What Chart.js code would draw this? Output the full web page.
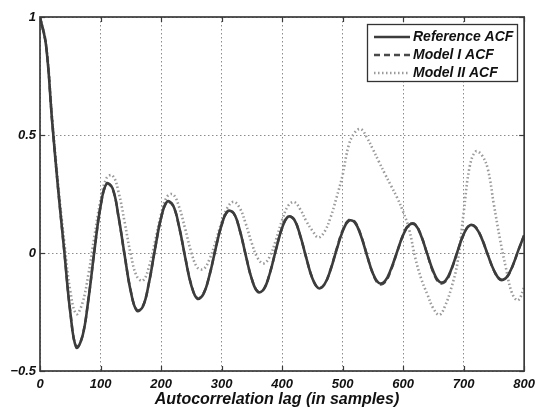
<!DOCTYPE html>
<html>
<head>
<meta charset="utf-8">
<style>
  html, body { margin: 0; padding: 0; background: #ffffff; }
  canvas { display: block; }
</style>
<script src="https://cdn.jsdelivr.net/npm/chart.js@4.4.1/dist/chart.umd.min.js"></script>
</head>
<body>
<canvas id="acf" width="541" height="408"></canvas>
<script>
// Autocorrelation lag (samples)
const lags = [
  0, 10, 20, 30, 40, 50, 60, 70, 80, 90,
  100, 110, 120, 130, 140, 150, 160, 170, 180, 190,
  200, 210, 220, 230, 240, 250, 260, 270, 280, 290,
  300, 310, 320, 330, 340, 350, 360, 370, 380, 390,
  400, 410, 420, 430, 440, 450, 460, 470, 480, 490,
  500, 510, 520, 530, 540, 550, 560, 570, 580, 590,
  600, 610, 620, 630, 640, 650, 660, 670, 680, 690,
  700, 710, 720, 730, 740, 750, 760, 770, 780, 790,
  800
];

const referenceAcf = [
  1.00, 0.88, 0.56, 0.27, 0.01, -0.25, -0.40, -0.355, -0.197, 0.011,
  0.197, 0.294, 0.274, 0.150, -0.012, -0.163, -0.244, -0.227, -0.127, 0.016,
  0.148, 0.218, 0.201, 0.110, -0.020, -0.137, -0.194, -0.174, -0.095, 0.016,
  0.118, 0.177, 0.169, 0.098, -0.010, -0.111, -0.165, -0.153, -0.084, 0.015,
  0.106, 0.154, 0.142, 0.074, -0.021, -0.107, -0.149, -0.133, -0.072, 0.013,
  0.091, 0.136, 0.130, 0.075, -0.008, -0.086, -0.127, -0.119, -0.068, 0.005,
  0.076, 0.119, 0.119, 0.071, -0.005, -0.079, -0.122, -0.117, -0.067, 0.008,
  0.079, 0.117, 0.108, 0.061, -0.008, -0.073, -0.111, -0.106, -0.060, 0.009,
  0.075
];

const model1Acf = [
  1.00, 0.88, 0.56, 0.27, 0.012, -0.248, -0.398, -0.352, -0.195, 0.012,
  0.196, 0.292, 0.272, 0.149, -0.012, -0.161, -0.242, -0.225, -0.126, 0.017,
  0.147, 0.216, 0.199, 0.109, -0.019, -0.135, -0.192, -0.172, -0.094, 0.017,
  0.117, 0.175, 0.168, 0.097, -0.009, -0.110, -0.163, -0.152, -0.083, 0.016,
  0.106, 0.153, 0.141, 0.073, -0.020, -0.106, -0.147, -0.133, -0.070, 0.016,
  0.095, 0.139, 0.133, 0.077, -0.006, -0.088, -0.131, -0.124, -0.072, 0.003,
  0.076, 0.121, 0.121, 0.072, -0.006, -0.083, -0.127, -0.121, -0.069, 0.007,
  0.079, 0.118, 0.110, 0.062, -0.008, -0.074, -0.113, -0.107, -0.061, 0.008,
  0.074
];

const model2Acf = [
  1.00, 0.885, 0.575, 0.29, 0.05, -0.16, -0.258, -0.213, -0.090, 0.072,
  0.223, 0.318, 0.328, 0.256, 0.129, -0.006, -0.099, -0.117, -0.059, 0.049,
  0.163, 0.239, 0.248, 0.194, 0.101, 0.003, -0.061, -0.068, -0.027, 0.047,
  0.130, 0.193, 0.217, 0.191, 0.124, 0.041, -0.023, -0.044, -0.013, 0.057,
  0.139, 0.200, 0.216, 0.185, 0.135, 0.095, 0.066, 0.090, 0.150, 0.235,
  0.330, 0.455, 0.510, 0.525, 0.490, 0.440, 0.387, 0.335, 0.285, 0.235,
  0.175, 0.100, -0.020, -0.110, -0.175, -0.235, -0.262, -0.220, -0.145, -0.040,
  0.170, 0.366, 0.430, 0.415, 0.355, 0.205, 0.060, -0.065, -0.170, -0.200,
  -0.145
];

const seriesLabels = ['Reference ACF', 'Model I ACF', 'Model II ACF'];
const xTickValues = [0, 100, 200, 300, 400, 500, 600, 700, 800];
const yTickValues = [-0.5, 0, 0.5, 1];
const yTickLabels = ['\u22120.5', '0', '0.5', '1'];
const xTitle = 'Autocorrelation lag (in samples)';

const FONT = '"Liberation Sans", Arial, Helvetica, sans-serif';
const toPoints = (vals) => vals.map((v, i) => ({ x: lags[i], y: v }));

// Box frame with inward tick marks on all four sides
const framePlugin = {
  id: 'frame',
  afterDatasetsDraw(chart) {
    const { ctx, chartArea: a, scales } = chart;
    const xs = scales.x, ys = scales.y;
    ctx.save();
    ctx.setLineDash([]);
    ctx.strokeStyle = '#3a3a3a';
    ctx.lineWidth = 1.2;
    const len = 5;
    const seg = (x1, y1, x2, y2) => {
      ctx.beginPath(); ctx.moveTo(x1, y1); ctx.lineTo(x2, y2); ctx.stroke();
    };
    xs.ticks.forEach(t => {
      const px = Math.round(xs.getPixelForValue(t.value)) + 0.5;
      seg(px, a.top, px, a.top + len);
      seg(px, a.bottom, px, a.bottom - len);
    });
    ys.ticks.forEach(t => {
      const py = Math.round(ys.getPixelForValue(t.value)) + 0.5;
      seg(a.left, py, a.left + len, py);
      seg(a.right, py, a.right - len, py);
    });
    ctx.lineWidth = 1.7;
    ctx.strokeRect(a.left, a.top, a.right - a.left, a.bottom - a.top);
    ctx.restore();
  }
};

// Axis title under the lag labels
const axisTitlePlugin = {
  id: 'axisTitle',
  afterDraw(chart) {
    const { ctx } = chart;
    ctx.save();
    ctx.fillStyle = '#111111';
    ctx.font = 'italic bold 16px ' + FONT;
    ctx.textAlign = 'center';
    ctx.textBaseline = 'middle';
    ctx.fillText(xTitle, 277, 400);
    ctx.restore();
  }
};

// Boxed legend in the upper right corner
const boxLegendPlugin = {
  id: 'boxLegend',
  afterDraw(chart) {
    const { ctx } = chart;
    const box = { left: 367, top: 24, right: 517, bottom: 81 };
    ctx.save();
    ctx.fillStyle = '#ffffff';
    ctx.fillRect(box.left, box.top, box.right - box.left, box.bottom - box.top);
    ctx.setLineDash([]);
    ctx.strokeStyle = '#333333';
    ctx.lineWidth = 1.3;
    ctx.strokeRect(box.left + 0.5, box.top + 0.5, box.right - box.left, box.bottom - box.top);
    const rowY = [37, 55, 73];
    chart.data.datasets.forEach((ds, i) => {
      const y = rowY[i];
      ctx.strokeStyle = ds.borderColor;
      ctx.lineWidth = ds.borderWidth;
      ctx.setLineDash(ds.borderDash || []);
      ctx.beginPath();
      ctx.moveTo(374, y);
      ctx.lineTo(410, y);
      ctx.stroke();
      ctx.setLineDash([]);
      ctx.fillStyle = '#111111';
      ctx.font = 'italic bold 14px ' + FONT;
      ctx.textAlign = 'left';
      ctx.textBaseline = 'middle';
      ctx.fillText(ds.label, 413, y + 0.5);
    });
    ctx.restore();
  }
};

new Chart(document.getElementById('acf'), {
  type: 'line',
  data: {
    datasets: [
      {
        label: seriesLabels[0],
        data: toPoints(referenceAcf),
        borderColor: '#3c3c3c',
        borderWidth: 2.6,
        pointRadius: 0,
        tension: 0.4,
        fill: false
      },
      {
        label: seriesLabels[1],
        data: toPoints(model1Acf),
        borderColor: '#4a4a4a',
        borderWidth: 2.4,
        borderDash: [6, 4],
        pointRadius: 0,
        tension: 0.4,
        fill: false
      },
      {
        label: seriesLabels[2],
        data: toPoints(model2Acf),
        borderColor: '#9a9a9a',
        borderWidth: 2.6,
        borderDash: [1.5, 2.5],
        pointRadius: 0,
        tension: 0.4,
        fill: false
      }
    ]
  },
  options: {
    responsive: false,
    animation: false,
    devicePixelRatio: 1,
    layout: { padding: { top: 17, right: 13, left: 0, bottom: 0 } },
    plugins: {
      legend: { display: false },
      tooltip: { enabled: false }
    },
    scales: {
      x: {
        type: 'linear',
        min: 0,
        max: 800,
        afterBuildTicks: (s) => { s.ticks = xTickValues.map(v => ({ value: v })); },
        afterFit: (s) => { s.height = 37; },
        ticks: {
          color: '#111111',
          padding: 6,
          maxRotation: 0,
          font: { family: FONT, size: 13, style: 'italic', weight: 'bold' },
          callback: (v) => String(v)
        },
        grid: { color: '#8c8c8c', lineWidth: 1, drawTicks: false },
        border: { display: false, dash: [1.5, 2.5] }
      },
      y: {
        type: 'linear',
        min: -0.5,
        max: 1,
        afterBuildTicks: (s) => { s.ticks = yTickValues.map(v => ({ value: v })); },
        afterFit: (s) => { s.width = 40; },
        ticks: {
          color: '#111111',
          padding: 4,
          font: { family: FONT, size: 13, style: 'italic', weight: 'bold' },
          callback: (v) => {
            const i = yTickValues.indexOf(v);
            return i >= 0 ? yTickLabels[i] : '';
          }
        },
        grid: { color: '#8c8c8c', lineWidth: 1, drawTicks: false },
        border: { display: false, dash: [1.5, 2.5] }
      }
    }
  },
  plugins: [framePlugin, axisTitlePlugin, boxLegendPlugin]
});
</script>
</body>
</html>
